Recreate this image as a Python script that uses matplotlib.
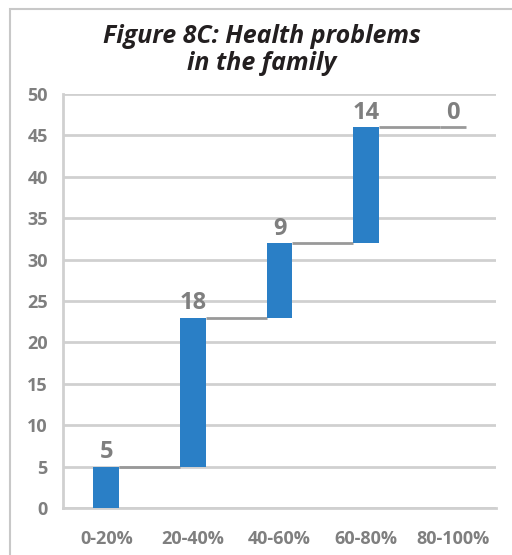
import matplotlib
matplotlib.use("Agg")
import matplotlib.pyplot as plt
from matplotlib.patches import Rectangle
import numpy as np

categories = ["0-20%", "20-40%", "40-60%", "60-80%", "80-100%"]
values = [5, 18, 9, 14, 0]
yticks = [0, 5, 10, 15, 20, 25, 30, 35, 40, 45, 50]
title = "Figure 8C: Health problems\nin the family"

plt.rcParams['font.family'] = ['Open Sans', 'DejaVu Sans']

BAR = "#2a7fc6"
GRID = "#d0d0d0"
CONN = "#999999"
TXT = "#7f7f7f"

fig = plt.figure(figsize=(5.12, 5.55), dpi=100)
ax = fig.add_axes([63/512, 1 - 508/555, (496 - 63)/512, (508 - 94)/555])

x = np.arange(len(categories))
cum = np.cumsum(values)
bottoms = cum - np.array(values)
ax.bar(x, values, bottom=bottoms, width=0.30, color=BAR, zorder=3)

w = 0.15
for i in range(len(values) - 1):
    ax.plot([x[i] + w, x[i + 1] - w], [cum[i], cum[i]], color=CONN, lw=2, zorder=2,
            solid_capstyle='butt')

ax.plot([x[-1] - w, x[-1] + w], [cum[-1], cum[-1]], color=CONN, lw=2, zorder=2,
        solid_capstyle='butt')

for i, v in enumerate(values):
    ax.text(x[i], cum[i] + 0.3, str(v), ha='center', va='bottom', fontsize=17,
            fontweight='bold', color=TXT)

ax.set_xlim(-0.5, len(categories) - 0.5)
ax.set_ylim(0, 50)
ax.set_yticks(yticks)
ax.set_xticks(x)
ax.set_xticklabels(categories)
ax.yaxis.grid(True, color=GRID, lw=2, zorder=0)
ax.set_axisbelow(True)
for s in ['top', 'right']:
    ax.spines[s].set_visible(False)
ax.spines['left'].set_color(GRID)
ax.spines['left'].set_linewidth(2)
ax.spines['bottom'].set_color(GRID)
ax.spines['bottom'].set_linewidth(2)
ax.tick_params(length=0, labelsize=13, colors=TXT)
ax.tick_params(axis='y', pad=11)
ax.tick_params(axis='x', pad=16)
for lab in ax.get_xticklabels() + ax.get_yticklabels():
    lab.set_fontweight('bold')

fig.text(262/512, 1 - 50/555, title, ha='center', va='center', fontsize=18,
         fontweight='bold', fontstyle='italic', color="#231f20", linespacing=1.15)

fig.patches.append(Rectangle((10/512, -0.1), 1.2, 1.1 - 9/555, transform=fig.transFigure,
                             fill=False, edgecolor="#c8c8c8", lw=1.5, clip_on=False))

fig.savefig("out.png", dpi=100)
